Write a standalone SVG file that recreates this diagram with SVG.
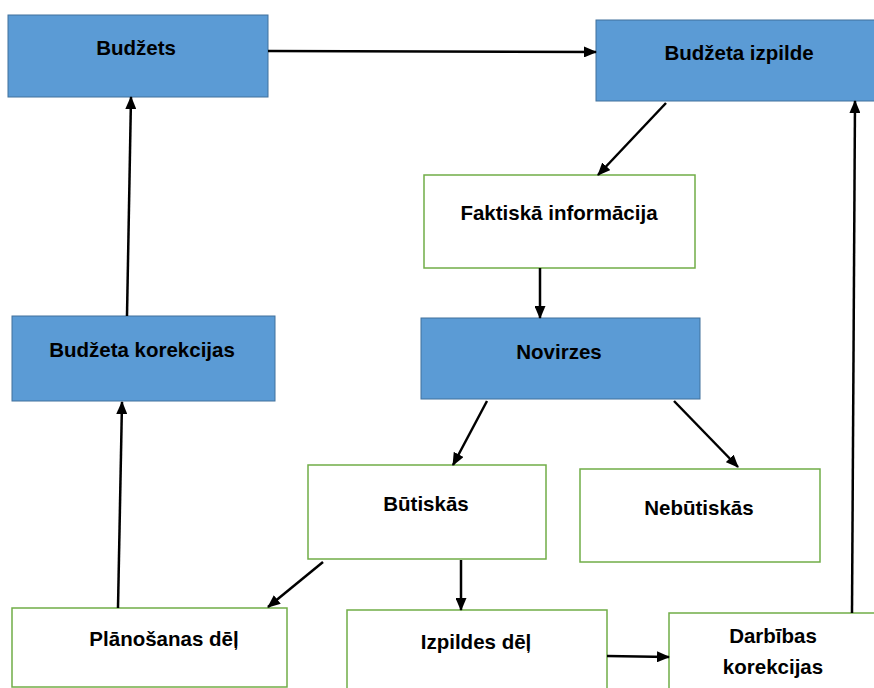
<svg xmlns="http://www.w3.org/2000/svg" width="874" height="688" viewBox="0 0 874 688">
<style>
.blue{fill:#5b9bd5;stroke:#41719c;stroke-width:1}
.green{fill:#ffffff;stroke:#70ad47;stroke-width:1.5}
text{font-family:"Liberation Sans",Arial,sans-serif;font-weight:bold;font-size:20.5px;fill:#000;text-anchor:middle}
.c line{stroke:#000;stroke-width:2.5;marker-end:url(#ah)}
</style>
<defs>
<marker id="ah" markerUnits="userSpaceOnUse" markerWidth="13" markerHeight="11" refX="12" refY="5.5" orient="auto">
<path d="M0,0 L13,5.5 L0,11 z" fill="#000"/>
</marker>
</defs>
<rect width="874" height="688" fill="#fff"/>
<g id="budzets"><rect class="blue" x="8" y="15" width="260" height="82"/><text x="136" y="55">Budžets</text></g>
<g id="budzeta-izpilde"><rect class="blue" x="596" y="20" width="290" height="81"/><text x="739" y="60">Budžeta izpilde</text></g>
<g id="faktiska"><rect class="green" x="424" y="175" width="271" height="93"/><text x="559" y="220">Faktiskā informācija</text></g>
<g id="budzeta-korekcijas"><rect class="blue" x="12" y="316" width="263" height="85"/><text x="142" y="357">Budžeta korekcijas</text></g>
<g id="novirzes"><rect class="blue" x="421" y="318" width="279" height="81"/><text x="559" y="359">Novirzes</text></g>
<g id="butiskas"><rect class="green" x="308" y="465" width="238" height="94"/><text x="426" y="511">Būtiskās</text></g>
<g id="nebutiskas"><rect class="green" x="580" y="469" width="240" height="93"/><text x="699" y="515">Nebūtiskās</text></g>
<g id="planosanas"><rect class="green" x="12" y="608" width="275" height="79"/><text x="164" y="646">Plānošanas dēļ</text></g>
<g id="izpildes"><rect class="green" x="347" y="610" width="260" height="90"/><text x="476" y="649">Izpildes dēļ</text></g>
<g id="darbibas"><rect class="green" x="669" y="613" width="215" height="90"/><text x="773" y="643">Darbības</text><text x="773" y="674">korekcijas</text></g>
<g class="c" id="connectors">
<line x1="268" y1="51" x2="596" y2="52"/>
<line x1="666" y1="103" x2="598" y2="175"/>
<line x1="540" y1="268" x2="540" y2="318"/>
<line x1="487" y1="401" x2="453" y2="465"/>
<line x1="674" y1="401" x2="738" y2="467"/>
<line x1="461" y1="560" x2="461" y2="610"/>
<line x1="323" y1="562" x2="268" y2="607"/>
<line x1="118" y1="608" x2="122" y2="402"/>
<line x1="127" y1="316" x2="131" y2="97"/>
<line x1="607" y1="656" x2="669" y2="657"/>
<line x1="852" y1="613" x2="855" y2="101"/>
</g>
</svg>
